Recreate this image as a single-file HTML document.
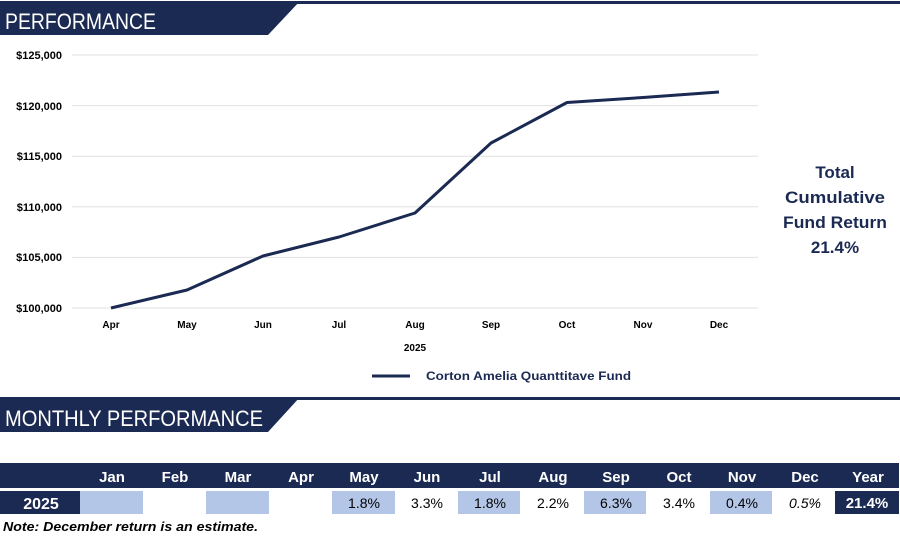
<!DOCTYPE html>
<html><head><style>
body{margin:0;width:900px;height:538px;background:#fff;position:relative;overflow:hidden;font-family:"Liberation Sans",sans-serif}
</style></head><body>
<svg width="900" height="538" style="position:absolute;left:0;top:0" font-family="Liberation Sans, sans-serif">
<rect x="0" y="1" width="900" height="3" fill="#1b2a52"/>
<polygon points="0,1 300,1 268,35 0,35" fill="#1b2a52"/>
<text x="5" y="29" font-size="22" fill="#fff" textLength="151" lengthAdjust="spacingAndGlyphs">PERFORMANCE</text>
<rect x="0" y="397" width="900" height="3" fill="#1b2a52"/>
<polygon points="0,397 300,397 268,432 0,432" fill="#1b2a52"/>
<text x="5" y="426" font-size="22" fill="#fff" textLength="258" lengthAdjust="spacingAndGlyphs">MONTHLY PERFORMANCE</text>
<g stroke="#e0e0e0" stroke-width="1">
<line x1="72" x2="758" y1="55" y2="55"/><line x1="72" x2="758" y1="105.6" y2="105.6"/><line x1="72" x2="758" y1="156.2" y2="156.2"/><line x1="72" x2="758" y1="206.8" y2="206.8"/><line x1="72" x2="758" y1="257.4" y2="257.4"/><line x1="72" x2="758" y1="308" y2="308"/>
</g>
<g font-size="11" font-weight="bold" fill="#000" text-anchor="end">
<text x="62" y="59">$125,000</text><text x="62" y="110">$120,000</text><text x="62" y="160">$115,000</text><text x="62" y="211">$110,000</text><text x="62" y="261">$105,000</text><text x="62" y="312">$100,000</text>
</g>
<g font-size="10" font-weight="bold" fill="#000" text-anchor="middle">
<text x="111" y="328">Apr</text><text x="187" y="328">May</text><text x="263" y="328">Jun</text><text x="339" y="328">Jul</text><text x="415" y="328">Aug</text><text x="491" y="328">Sep</text><text x="567" y="328">Oct</text><text x="643" y="328">Nov</text><text x="719" y="328">Dec</text>
<text x="415" y="351">2025</text>
</g>
<polyline points="111,308 187,290 263,256 339,237 415,213 491,143 567,102.5 643,97.5 719,92" fill="none" stroke="#1b2a52" stroke-width="3" stroke-linejoin="round"/>
<line x1="372" x2="410" y1="376" y2="376" stroke="#1b2a52" stroke-width="3"/>
<text x="426" y="380" font-size="12" font-weight="bold" fill="#1b2a52" textLength="205" lengthAdjust="spacingAndGlyphs">Corton Amelia Quanttitave Fund</text>
<g font-size="17" font-weight="bold" fill="#1b2a52" text-anchor="middle">
<text x="835" y="178">Total</text><text x="835" y="203" textLength="100" lengthAdjust="spacingAndGlyphs">Cumulative</text><text x="835" y="228" textLength="104" lengthAdjust="spacingAndGlyphs">Fund Return</text><text x="835" y="253">21.4%</text>
</g>
<rect x="0" y="463" width="899" height="25" fill="#1b2a52"/>
<g font-size="15" font-weight="bold" fill="#fff" text-anchor="middle">
<text x="112" y="482">Jan</text><text x="175" y="482">Feb</text><text x="238" y="482">Mar</text><text x="301" y="482">Apr</text><text x="364" y="482">May</text><text x="427" y="482">Jun</text><text x="490" y="482">Jul</text><text x="553" y="482">Aug</text><text x="616" y="482">Sep</text><text x="679" y="482">Oct</text><text x="742" y="482">Nov</text><text x="805" y="482">Dec</text><text x="868" y="482">Year</text>
</g>
<rect x="0" y="491" width="80" height="23" fill="#1b2a52"/>
<text x="41" y="509" font-size="16" font-weight="bold" fill="#fff" text-anchor="middle">2025</text>
<g fill="#b4c6e7">
<rect x="80" y="491" width="63" height="23"/><rect x="206" y="491" width="63" height="23"/><rect x="332" y="491" width="63" height="23"/><rect x="458" y="491" width="62" height="23"/><rect x="584" y="491" width="62" height="23"/><rect x="710" y="491" width="62" height="23"/>
</g>
<rect x="835" y="491" width="64" height="23" fill="#1b2a52"/>
<g font-size="14" fill="#000" text-anchor="middle">
<text x="364" y="508">1.8%</text><text x="427" y="508">3.3%</text><text x="490" y="508">1.8%</text><text x="553" y="508">2.2%</text><text x="616" y="508">6.3%</text><text x="679" y="508">3.4%</text><text x="742" y="508">0.4%</text><text x="805" y="508" font-style="italic">0.5%</text>
</g>
<text x="867" y="508" font-size="15" font-weight="bold" fill="#fff" text-anchor="middle">21.4%</text>
<text x="3" y="531" font-size="13" font-weight="bold" font-style="italic" fill="#000" textLength="255" lengthAdjust="spacingAndGlyphs">Note: December return is an estimate.</text>
</svg>
</body></html>
